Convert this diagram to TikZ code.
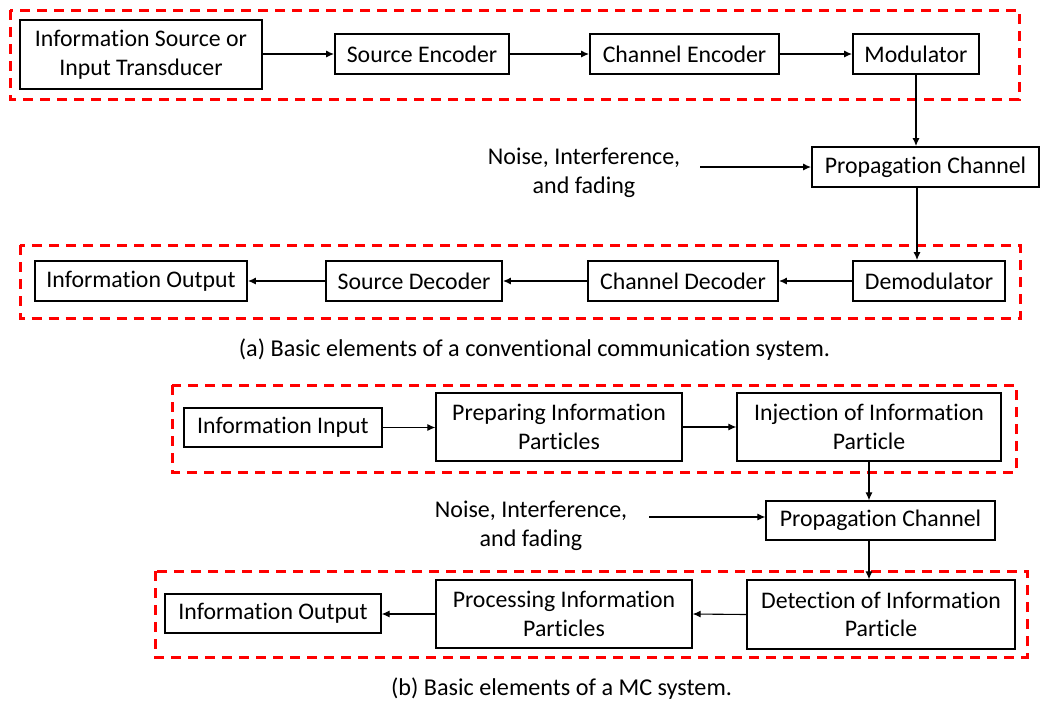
\documentclass[tikz,border=0pt]{standalone}
\usepackage{fontspec}
\setmainfont{Carlito}[RawFeature={-liga;-clig;-calt;-dlig}]
\usetikzlibrary{arrows.meta}
\begin{document}
\begin{tikzpicture}[x=1pt,y=-1pt,
  box/.style={draw=black, line width=1.6pt, inner sep=0pt, align=center, font=\fontsize{23.8}{28.5}\selectfont},
  boxb/.style={box, line width=1.3pt},
  plain/.style={inner sep=0pt, align=center, font=\fontsize{24}{28.5}\selectfont},
  captext/.style={inner sep=0pt, font=\fontsize{24.2}{28}\selectfont},
  grp/.style={draw={rgb,255:red,255;green,0;blue,0}, line width=3pt, dash pattern=on 10pt off 7pt},
  arr/.style={line width=1.5pt, -{Latex[length=8pt,width=7pt]}},
  arrb/.style={line width=1.1pt, -{Latex[length=8pt,width=7pt]}}
]
\useasboundingbox (0,0) rectangle (1046,705);
% (a) groups
\draw[grp] (10,10) rectangle (1019,99);
\draw[grp] (20,245) rectangle (1020,318.5);
% (a) nodes
\node[box, minimum width=242pt, minimum height=69pt] (src) at (141,54.5) {Information Source or\\Input Transducer};
\node[box, minimum width=174pt, minimum height=40pt] (senc) at (422,54) {Source Encoder};
\node[box, minimum width=189pt, minimum height=40pt] (cenc) at (684.5,54) {Channel Encoder};
\node[box, minimum width=126pt, minimum height=40pt] (mod) at (916,54) {Modulator};
\node[box, minimum width=227pt, minimum height=40pt] (prop) at (925.5,167) {Propagation Channel};
\node[box, minimum width=152pt, minimum height=40pt] (demod) at (929,281) {Demodulator};
\node[box, minimum width=190pt, minimum height=40pt] (cdec) at (683,281) {Channel Decoder};
\node[box, minimum width=176pt, minimum height=40pt] (sdec) at (414,281) {Source Decoder};
\node[box, minimum width=212pt, minimum height=40pt] (out) at (141,281) {Information Output};
\node[plain] (noise) at (584,173) {Noise, Interference,\\and fading};
\coordinate (nstart) at (700,167);
\node[captext] (capa) at (534.5,350) {(a) Basic elements of a conventional communication system.};
% (a) connectors
\draw[arr] (src.east |- senc.west) -- (senc.west);
\draw[arr] (senc.east) -- (cenc.west);
\draw[arr] (cenc.east) -- (mod.west);
\draw[arr] (mod.south) -- (mod.south |- prop.north);
\draw[arr] ([xshift=-8.5pt]prop.south) -- ([xshift=-8.5pt]prop.south |- demod.north);
\draw[arr] (nstart) -- (nstart -| prop.west);
\draw[arr] (demod.west) -- (cdec.east);
\draw[arr] (cdec.west) -- (sdec.east);
\draw[arr] (sdec.west) -- (out.east);
% (b) groups
\draw[grp] (172,385) rectangle (1016,472);
\draw[grp] (155,571) rectangle (1027,657);
% (b) nodes
\node[boxb, minimum width=198pt, minimum height=39pt] (inp) at (283,427.5) {Information Input};
\node[boxb, minimum width=246pt, minimum height=68pt] (prep) at (559,427) {Preparing Information\\Particles};
\node[boxb, minimum width=264pt, minimum height=68pt] (inj) at (869,427) {Injection of Information\\Particle};
\node[boxb, minimum width=229pt, minimum height=39pt] (prop2) at (880.5,520.5) {Propagation Channel};
\node[boxb, minimum width=268pt, minimum height=69pt] (det) at (881,614.5) {Detection of Information\\Particle};
\node[boxb, minimum width=256pt, minimum height=68pt] (proc) at (564,614) {Processing Information\\Particles};
\node[boxb, minimum width=216pt, minimum height=39pt] (out2) at (273,613.5) {Information Output};
\node[plain] (noise2) at (531,526) {Noise, Interference,\\and fading};
\coordinate (nstart2) at (649,517);
\node[captext] (capb) at (561.5,689) {(b) Basic elements of a MC system.};
% (b) connectors
\draw[arrb] (inp.east) -- (inp.east -| prep.west);
\draw[arrb] (prep.east) -- (inj.west);
\draw[arrb] (inj.south) -- (inj.south |- prop2.north);
\draw[arrb] ([xshift=-11.5pt]prop2.south) -- ([xshift=-11.5pt]prop2.south |- det.north);
\draw[arrb] (nstart2) -- (nstart2 -| prop2.west);
\draw[arrb] (det.west) -- (proc.east);
\draw[arrb] (proc.west) -- (proc.west -| out2.east);
\end{tikzpicture}
\end{document}
